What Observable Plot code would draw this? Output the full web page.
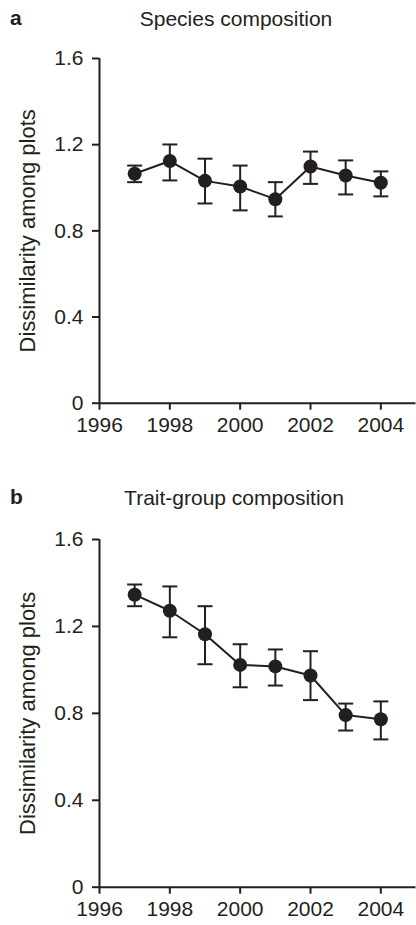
<!DOCTYPE html>
<html>
<head>
<meta charset="utf-8">
<script src="https://cdn.jsdelivr.net/npm/d3@7"></script>
<script src="https://cdn.jsdelivr.net/npm/@observablehq/plot@0.6"></script>
<style>
  html, body { margin: 0; padding: 0; background: #fff; }
  #page { position: relative; width: 416px; height: 925px; overflow: hidden;
          font-family: "Liberation Sans", Arial, Helvetica, sans-serif; color: #231f20; }
  .letter { position: absolute; font-weight: bold; font-size: 21px; line-height: 21px; }
  .title { position: absolute; font-size: 21px; line-height: 21px; white-space: nowrap; transform: translateX(-50%); }
  .panel { position: absolute; left: 0; }
</style>
</head>
<body>
<div id="page">
  <div class="letter" style="left:10px; top:7px;">a</div>
  <div class="title" style="left:236px; top:8px;">Species composition</div>
  <div class="panel" id="pa" style="top:40px;"></div>
  <div class="letter" style="left:10px; top:486px;">b</div>
  <div class="title" style="left:234px; top:487px;">Trait-group composition</div>
  <div class="panel" id="pb" style="top:520px;"></div>
</div>
<script>
// ---- data ----
const years = [1997, 1998, 1999, 2000, 2001, 2002, 2003, 2004];

const speciesMean = [1.065, 1.124, 1.032, 1.006, 0.947, 1.099, 1.057, 1.023];
const speciesHi   = [1.103, 1.201, 1.135, 1.103, 1.026, 1.168, 1.127, 1.076];
const speciesLo   = [1.026, 1.034, 0.927, 0.895, 0.867, 1.018, 0.969, 0.960];

const traitMean = [1.346, 1.272, 1.164, 1.023, 1.016, 0.974, 0.792, 0.773];
const traitHi   = [1.393, 1.384, 1.293, 1.118, 1.094, 1.086, 0.845, 0.855];
const traitLo   = [1.293, 1.150, 1.026, 0.920, 0.928, 0.861, 0.721, 0.680];

const xDomain = [1996, 2005];
const xTicks = [1996, 1998, 2000, 2002, 2004];
const yDomain = [0, 1.6];
const yTicks = [0, 0.4, 0.8, 1.2, 1.6];
const yLabel = "Dissimilarity among plots";

// ---- drawing ----
const ink = "#231f20";
const font = "Liberation Sans, Arial, Helvetica, sans-serif";
const capSymbol = { draw(ctx) { ctx.moveTo(-7.5, 0); ctx.lineTo(7.5, 0); } };

function panel(mean, hi, lo, height, mt, mb) {
  const data = years.map((year, i) => ({ year, mean: mean[i], hi: hi[i], lo: lo[i] }));
  return Plot.plot({
    width: 416,
    height,
    marginLeft: 99,
    marginRight: 0.5,
    marginTop: mt,
    marginBottom: mb,
    style: { fontFamily: font, fontSize: "21px", color: ink, background: "white", overflow: "visible" },
    x: { domain: xDomain },
    y: { domain: yDomain },
    marks: [
      Plot.axisY({ ticks: yTicks, tickFormat: d => d === 0 ? "0" : d.toFixed(1), tickSize: 7, tickPadding: 9,
                   stroke: ink, strokeWidth: 2, fontSize: 21, fill: ink, label: null }),
      Plot.axisX({ ticks: xTicks, tickFormat: d => String(d), tickSize: 7, tickPadding: 7,
                   stroke: ink, strokeWidth: 2, fontSize: 21, fill: ink, label: null }),
      Plot.ruleX([xDomain[0]], { stroke: ink, strokeWidth: 2 }),
      Plot.ruleY([yDomain[0]], { stroke: ink, strokeWidth: 2 }),
      Plot.text([yLabel], { frameAnchor: "left", textAnchor: "middle", rotate: -90, dx: -72, fontSize: 22, fill: ink }),
      Plot.ruleX(data, { x: "year", y1: "lo", y2: "hi", stroke: ink, strokeWidth: 2 }),
      Plot.dot(data, { x: "year", y: "hi", symbol: capSymbol, fill: "none", stroke: ink, strokeWidth: 2 }),
      Plot.dot(data, { x: "year", y: "lo", symbol: capSymbol, fill: "none", stroke: ink, strokeWidth: 2 }),
      Plot.line(data, { x: "year", y: "mean", stroke: ink, strokeWidth: 2 }),
      Plot.dot(data, { x: "year", y: "mean", r: 7, fill: ink, stroke: "none" })
    ]
  });
}

document.getElementById("pa").appendChild(panel(speciesMean, speciesHi, speciesLo, 400, 18, 37.3));
document.getElementById("pb").appendChild(panel(traitMean, traitHi, traitLo, 405, 19, 38.3));
</script>
</body>
</html>
